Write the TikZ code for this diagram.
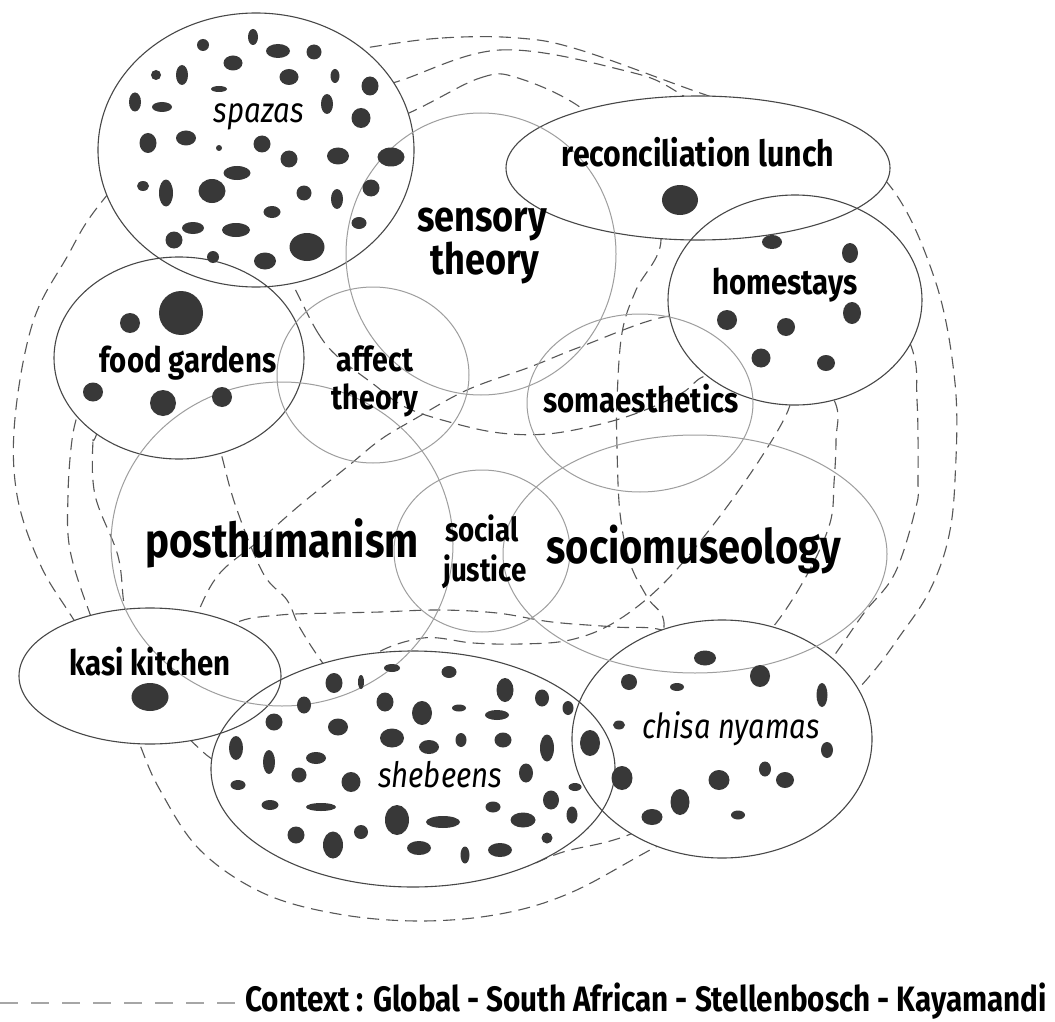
\documentclass[tikz,border=0pt]{standalone}
\usepackage{fontspec}
\setmainfont{Fira Sans}[FakeStretch=0.84]
\usepackage{tikz}
\usetikzlibrary{shapes.geometric}
\pgfdeclarelayer{contexts}
\pgfdeclarelayer{blanks}
\pgfsetlayers{contexts,blanks,main}
\tikzstyle{practice} = [ellipse, draw=black!72, line width=1.1pt, inner sep=0pt, outer sep=0pt]
\tikzstyle{theory} = [ellipse, draw=black!38, line width=1pt, inner sep=0pt, outer sep=0pt]
\tikzstyle{contextline} = [draw=black!66, line width=1.1pt, dash pattern=on 12pt off 7pt]
\tikzstyle{legendline} = [draw=black!35, line width=1.4pt, dash pattern=on 18pt off 13pt]
\tikzstyle{dot} = [fill=black!78]
\tikzstyle{term} = [anchor=base, inner sep=0pt, font=\bfseries\fontsize{35}{35}\selectfont]
\tikzstyle{bigterm} = [anchor=base, inner sep=0pt, font=\bfseries\fontsize{48}{48}\selectfont]
\tikzstyle{place} = [anchor=base, inner sep=0pt, font=\itshape\fontsize{35}{35}\selectfont]

\begin{document}
\begin{tikzpicture}[x=1pt, y=-1pt]
	\useasboundingbox (0,0) rectangle (1055,1022);
	
	% Context lines, drawn under everything
	\begin{pgfonlayer}{contexts}
		\fill[white] (0,0) rectangle (1055,1022);
		\draw[contextline] plot[smooth cycle, tension=0.6] coordinates {(365,48) (442,38) (518,38) (580,50) (706,95) (800,125) (885,180) (934,277) (955,383) (955,480) (948,540) (930,590) (902,633) (860,687) (760,790) (650,850) (570,893) (500,914) (420,921) (338,914) (263,893) (200,850) (160,790) (140,745) (120,690) (72,617) (40,564) (17,495) (15,418) (33,322) (67,257) (100,204) (180,115) (270,65)};
		\draw[contextline] plot[smooth cycle, tension=0.6] coordinates {(396,82) (500,50) (622,70) (682,95) (780,170) (860,250) (910,343) (917,400) (918,480) (916,507) (895,573) (864,613) (836,653) (760,760) (640,830) (563,852) (520,868) (470,872) (380,870) (280,840) (230,775) (203,752) (170,720) (110,660) (90,614) (70,550) (68,495) (72,440) (80,405) (100,330) (170,262) (250,160) (330,100)};
		\draw[contextline] plot[smooth cycle, tension=0.6] coordinates {(409,113) (480,78) (518,78) (584,110) (640,170) (661,240) (636,290) (622,333) (617,400) (617,447) (620,513) (630,563) (647,597) (664,627) (640,700) (560,760) (450,790) (350,800) (250,760) (190,700) (140,650) (125,609) (118,556) (95,495) (93,440) (97,433) (130,330) (200,258) (300,160)};
		\draw[contextline] plot[smooth cycle, tension=0.6] coordinates {(199,610) (220,573) (260,540) (300,505) (347,467) (380,440) (413,420) (467,390) (530,367) (580,347) (664,317) (720,320) (790,345) (834,400) (836,440) (834,483) (830,523) (808,573) (773,627) (730,670) (668,632) (615,627) (552,622) (497,613) (439,610) (380,612) (338,613) (280,615) (236,623) (215,650) (190,640)};
		\draw[contextline] plot[smooth cycle, tension=0.6] coordinates {(294,287) (318,333) (338,357) (372,383) (405,407) (453,423) (500,433) (547,434) (597,425) (640,412) (682,393) (705,376) (745,372) (782,388) (790,405) (764,453) (717,520) (664,583) (615,622) (570,640) (520,644) (473,643) (423,638) (372,656) (348,690) (325,666) (300,628) (287,600) (263,573) (236,507) (221,453) (205,390) (195,310) (220,245) (270,240)};
	\end{pgfonlayer}
	
	% Practices: white inside, outline on top
	\foreach \name/\x/\y/\w/\h in {spazas/256/150/316/274, foodgardens/179/358/250/202, lunch/698/168/384/144, homestays/795/300/254/210, kasikitchen/150/676/262/136, shebeens/413/769/404/236, chisanyamas/722/739/300/238}{
		\begin{pgfonlayer}{blanks}
			\fill[white] (\x,\y) ellipse [x radius=\w*0.5pt, y radius=\h*0.5pt];
		\end{pgfonlayer}
		\node[practice, minimum width=\w*1pt, minimum height=\h*1pt] (\name) at (\x,\y) {};
	}
	
	% Theories
	\node[theory, minimum width=270pt, minimum height=282pt] (sensory) at (481,254) {};
	\node[theory, minimum width=192pt, minimum height=176pt] (affect) at (373,375) {};
	\node[theory, minimum width=342pt, minimum height=324pt] (posthumanism) at (282,544) {};
	\node[theory, minimum width=176pt, minimum height=162pt] (socialjustice) at (482,551) {};
	\node[theory, minimum width=226pt, minimum height=178pt] (somaesthetics) at (640,403) {};
	\node[theory, minimum width=384pt, minimum height=238pt] (sociomuseology) at (695,554) {};
	
	% Dots
	\foreach \x/\y/\a/\b in {203/45/6/6, 253/37/5/8, 278/51/12/7, 314/52/7.5/7.5, 156/75/5/5, 182/75/6/10, 233/63/9.5/7.5, 289/77/9.5/8, 335/76/4.5/7, 370/86/8.5/9.5, 219/89/8/3, 135/102/6/9.5, 162/107/10/5, 327/104/6/10, 361/118/9.5/10, 148/143/8.5/10, 186/138/10/7.5, 219/148/3/3, 262/144/8.5/8.5, 289/159/8.5/8.5, 338/156/11/8.5, 391/157/13.5/9.5, 237/173/13.5/7, 143/186/6/5, 166/193/7/13.5, 212/191/13.5/12, 304/193/7.5/7.5, 337/199/6/10, 371/188/8.5/8.5, 272/212/8.5/6, 193/228/11/6, 236/230/14/7, 359/223/7.5/6, 174/240/8.5/8.5, 213/257/6/6, 265/261/11/8.5, 307/247/17.5/14}
		\fill[dot] (\x,\y) ellipse [x radius=\a*1pt, y radius=\b*1pt];
	\foreach \x/\y/\a/\b in {130/323/10/10, 181/313/22/22, 93/392/10/9.5, 163/403/13/13, 222/397/10/10, 680/200/18/15, 772/242/10/7, 850/253/8/10, 727/320/10/10, 786/327/9/9, 852/313/9/11, 761/358/9.5/9.5, 826/363/9/8, 150/697/18.5/14}
		\fill[dot] (\x,\y) ellipse [x radius=\a*1pt, y radius=\b*1pt];
	\foreach \x/\y/\a/\b in {392/668/8/4, 449/672/7.5/6, 334/683/8.5/10, 361/682/3/7, 505/690/8.5/12, 304/705/7/8.5, 385/702/8.5/9.5, 422/713/10/12, 459/708/7/3.5, 497/715/12/5, 274/722/8.5/8.5, 338/727/10/8.5, 392/738/12/9.5, 429/747/10/7, 461/740/5.5/7, 503/740/8.5/7.5, 236/748/7/12, 269/762/6/12, 316/758/10/6, 299/775/7.5/7.5, 351/782/9.5/10, 238/785/7.5/5, 270/805/8.5/5, 321/807/15/4, 397/820/12/15, 443/822/17/6, 493/807/7.5/5.5, 296/835/8.5/8.5, 333/845/10/13.5, 361/832/7/7, 419/848/12/7, 465/855/4.5/8.5, 500/850/12/7, 542/698/7/8.5, 568/708/5.5/7, 547/748/7/13.5, 526/773/7/9.5, 575/787/6.5/4, 551/800/8/9.5, 572/815/5.5/8.5, 523/820/12.5/7.5, 547/838/5.5/5.5, 590/743/10/13}
		\fill[dot] (\x,\y) ellipse [x radius=\a*1pt, y radius=\b*1pt];
	\foreach \x/\y/\a/\b in {705/658/11/7.5, 629/682/8/8, 677/687/7/4, 760/676/10/11, 822/695/5.5/12, 619/725/6/4.5, 827/750/6/8, 622/778/10.5/12, 719/780/10.5/10, 765/769/6/7.5, 785/780/9/8, 680/802/9.5/13, 652/817/10.5/8, 738/815/7/4.5}
		\fill[dot] (\x,\y) ellipse [x radius=\a*1pt, y radius=\b*1pt];
	
	% Labels
	\node[place] (spazastext) at (259,123) {spazas};
	\node[term] (foodgardenstext) at (188,372) {food gardens};
	\node[term, font=\bfseries\fontsize{36}{36}\selectfont] (lunchtext) at (698,167) {reconciliation lunch};
	\node[term] (homestaystext) at (785,294) {homestays};
	\node[term] (kasikitchentext) at (150,675) {kasi kitchen};
	\node[place] (shebeenstext) at (440,787) {shebeens};
	\node[place, font=\itshape\fontsize{34.5}{34.5}\selectfont] (chisanyamastext) at (731,738) {chisa nyamas};
	\node[bigterm, font=\bfseries\fontsize{43}{43}\selectfont] (sensorytext) at (482,231) {sensory};
	\node[bigterm, font=\bfseries\fontsize{43}{43}\selectfont] (sensorytheorytext) at (485,274) {theory};
	\node[term, font=\bfseries\fontsize{34}{34}\selectfont] (affecttext) at (375,371) {affect};
	\node[term, font=\bfseries\fontsize{34}{34}\selectfont] (affecttheorytext) at (375,409) {theory};
	\node[term] (somaestheticstext) at (641,412) {somaesthetics};
	\node[bigterm] (posthumanismtext) at (282,557) {posthumanism};
	\node[term, font=\bfseries\fontsize{33}{33}\selectfont] (socialtext) at (482,541) {social};
	\node[term, font=\bfseries\fontsize{33}{33}\selectfont] (justicetext) at (485,581) {justice};
	\node[bigterm, font=\bfseries\fontsize{47.5}{47.5}\selectfont] (sociomuseologytext) at (694,563) {sociomuseology};
	
	% Legend
	\node[term, anchor=base west, font=\bfseries\fontsize{35.3}{35.3}\selectfont] (legendtext) at (245,1011) {Context : Global - South African - Stellenbosch - Kayamandi};
	\coordinate (legendstart) at (0,1003);
	\draw[legendline] (legendstart) -- (legendstart -| legendtext.west);
	
\end{tikzpicture}
\end{document}
